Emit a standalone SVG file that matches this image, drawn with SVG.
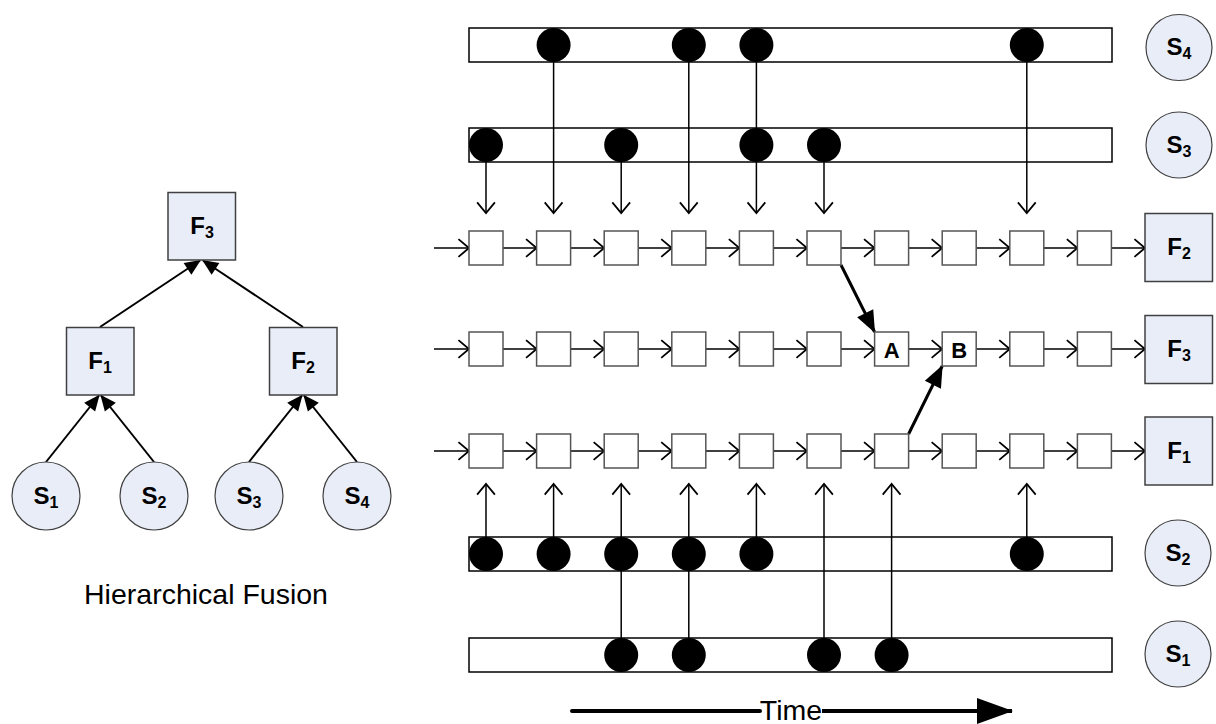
<svg xmlns="http://www.w3.org/2000/svg" width="1216" height="724" viewBox="0 0 1216 724">
  <style>
    .fnode { fill: #e8edf8; stroke: #404040; stroke-width: 1.5; }
    .snode { fill: #e8edf8; stroke: #404040; stroke-width: 1.2; }
    .lbl { font-family: "Liberation Sans", Arial, sans-serif; font-weight: bold; font-size: 24px; fill: #000; }
    .sub { font-size: 16px; }
    .cap { font-family: "Liberation Sans", Arial, sans-serif; font-size: 28.5px; fill: #000; }
    .bar { fill: #fff; stroke: #000; stroke-width: 1.5; }
    .cell { fill: #fff; stroke: #555; stroke-width: 1.5; }
    .dot { fill: #000; }
    .thin { stroke: #000; stroke-width: 1.5; fill: none; }
    .tree { stroke: #000; stroke-width: 2; fill: none; }
    .bold { stroke: #000; stroke-width: 3; fill: none; }
  </style>
  <defs>
    <marker id="open" markerUnits="userSpaceOnUse" markerWidth="14" markerHeight="20" viewBox="-1 -1 12 18" refX="9.5" refY="8" orient="auto" overflow="visible">
      <path d="M0,0 L9.5,8 L0,16" fill="none" stroke="#000" stroke-width="1.6"/>
    </marker>
    <marker id="solid" markerUnits="userSpaceOnUse" markerWidth="16" markerHeight="14" viewBox="0 0 16 14" refX="15" refY="7" orient="auto" overflow="visible">
      <path d="M0,0 L16,7 L0,14 Z" fill="#000"/>
    </marker>
    <marker id="solidBig" markerUnits="userSpaceOnUse" markerWidth="22" markerHeight="18" viewBox="0 0 22 18" refX="21" refY="9" orient="auto" overflow="visible">
      <path d="M0,0 L22,9 L0,18 Z" fill="#000"/>
    </marker>
    <marker id="timeHead" markerUnits="userSpaceOnUse" markerWidth="36" markerHeight="26" viewBox="0 0 36 26" refX="35" refY="13" orient="auto" overflow="visible">
      <path d="M0,0 L36,13 L0,26 Z" fill="#000"/>
    </marker>
  </defs>

  <!-- ===== Hierarchical fusion tree ===== -->
  <g id="tree-connectors">
    <line class="tree" x1="46" y1="462" x2="99" y2="395.5" marker-end="url(#solid)"/>
    <line class="tree" x1="154" y1="462" x2="101" y2="395.5" marker-end="url(#solid)"/>
    <line class="tree" x1="249" y1="462" x2="302" y2="395.5" marker-end="url(#solid)"/>
    <line class="tree" x1="357" y1="462" x2="304" y2="395.5" marker-end="url(#solid)"/>
    <line class="tree" x1="100" y1="327" x2="200" y2="260.5" marker-end="url(#solid)"/>
    <line class="tree" x1="303" y1="327" x2="203" y2="260.5" marker-end="url(#solid)"/>
  </g>
  <g id="tree-F3">
    <rect class="fnode" x="168" y="192.5" width="67.5" height="67.5"/>
    <text class="lbl" x="202" y="234" text-anchor="middle">F<tspan class="sub" dy="4">3</tspan></text>
  </g>
  <g id="tree-F1">
    <rect class="fnode" x="66.5" y="327.5" width="67.5" height="67.5"/>
    <text class="lbl" x="100" y="369" text-anchor="middle">F<tspan class="sub" dy="4">1</tspan></text>
  </g>
  <g id="tree-F2">
    <rect class="fnode" x="269.5" y="327.5" width="67.5" height="67.5"/>
    <text class="lbl" x="303" y="369" text-anchor="middle">F<tspan class="sub" dy="4">2</tspan></text>
  </g>
  <g id="tree-S1">
    <circle class="snode" cx="46" cy="496" r="34"/>
    <text class="lbl" x="46" y="504" text-anchor="middle">S<tspan class="sub" dy="4">1</tspan></text>
  </g>
  <g id="tree-S2">
    <circle class="snode" cx="154" cy="496" r="34"/>
    <text class="lbl" x="154" y="504" text-anchor="middle">S<tspan class="sub" dy="4">2</tspan></text>
  </g>
  <g id="tree-S3">
    <circle class="snode" cx="249" cy="496" r="34"/>
    <text class="lbl" x="249" y="504" text-anchor="middle">S<tspan class="sub" dy="4">3</tspan></text>
  </g>
  <g id="tree-S4">
    <circle class="snode" cx="357" cy="496" r="34"/>
    <text class="lbl" x="357" y="504" text-anchor="middle">S<tspan class="sub" dy="4">4</tspan></text>
  </g>
  <text id="tree-caption" class="cap" x="206" y="604" text-anchor="middle">Hierarchical Fusion</text>

  <!-- ===== Sensor timelines (bars) ===== -->
  <g id="bar-S4"><rect class="bar" x="469" y="28" width="643" height="34"/></g>
  <g id="bar-S3"><rect class="bar" x="469" y="128" width="643" height="34"/></g>
  <g id="bar-S2"><rect class="bar" x="469" y="537" width="643" height="34"/></g>
  <g id="bar-S1"><rect class="bar" x="469" y="638" width="643" height="34"/></g>

  <!-- ===== Connectors ===== -->
  <g id="connectors">
    <!-- sensor samples down into the F2 chain -->
    <line class="thin" x1="486" y1="145" x2="486" y2="213" marker-end="url(#open)"/>
    <line class="thin" x1="553.6" y1="45" x2="553.6" y2="213" marker-end="url(#open)"/>
    <line class="thin" x1="621.2" y1="145" x2="621.2" y2="213" marker-end="url(#open)"/>
    <line class="thin" x1="688.8" y1="45" x2="688.8" y2="213" marker-end="url(#open)"/>
    <line class="thin" x1="756.4" y1="45" x2="756.4" y2="213" marker-end="url(#open)"/>
    <line class="thin" x1="824" y1="145" x2="824" y2="213" marker-end="url(#open)"/>
    <line class="thin" x1="1026.8" y1="45" x2="1026.8" y2="213" marker-end="url(#open)"/>

    <!-- sensor samples up into the F1 chain -->
    <line class="thin" x1="486" y1="554" x2="486" y2="484" marker-end="url(#open)"/>
    <line class="thin" x1="553.6" y1="554" x2="553.6" y2="484" marker-end="url(#open)"/>
    <line class="thin" x1="621.2" y1="655" x2="621.2" y2="484" marker-end="url(#open)"/>
    <line class="thin" x1="688.8" y1="655" x2="688.8" y2="484" marker-end="url(#open)"/>
    <line class="thin" x1="756.4" y1="554" x2="756.4" y2="484" marker-end="url(#open)"/>
    <line class="thin" x1="824" y1="655" x2="824" y2="484" marker-end="url(#open)"/>
    <line class="thin" x1="891.6" y1="655" x2="891.6" y2="484" marker-end="url(#open)"/>
    <line class="thin" x1="1026.8" y1="554" x2="1026.8" y2="484" marker-end="url(#open)"/>

    <!-- F2 chain (y=248) -->
    <g id="chain-F2">
      <line class="thin" x1="434" y1="248" x2="469" y2="248" marker-end="url(#open)"/>
      <line class="thin" x1="503" y1="248" x2="536.6" y2="248" marker-end="url(#open)"/>
      <line class="thin" x1="570.6" y1="248" x2="604.2" y2="248" marker-end="url(#open)"/>
      <line class="thin" x1="638.2" y1="248" x2="671.8" y2="248" marker-end="url(#open)"/>
      <line class="thin" x1="705.8" y1="248" x2="739.4" y2="248" marker-end="url(#open)"/>
      <line class="thin" x1="773.4" y1="248" x2="807" y2="248" marker-end="url(#open)"/>
      <line class="thin" x1="841" y1="248" x2="874.6" y2="248" marker-end="url(#open)"/>
      <line class="thin" x1="908.6" y1="248" x2="942.2" y2="248" marker-end="url(#open)"/>
      <line class="thin" x1="976.2" y1="248" x2="1009.8" y2="248" marker-end="url(#open)"/>
      <line class="thin" x1="1043.8" y1="248" x2="1077.4" y2="248" marker-end="url(#open)"/>
      <line class="thin" x1="1111.4" y1="248" x2="1145" y2="248" marker-end="url(#open)"/>
    </g>
    <!-- F3 chain (y=349) -->
    <g id="chain-F3">
      <line class="thin" x1="434" y1="349" x2="469" y2="349" marker-end="url(#open)"/>
      <line class="thin" x1="503" y1="349" x2="536.6" y2="349" marker-end="url(#open)"/>
      <line class="thin" x1="570.6" y1="349" x2="604.2" y2="349" marker-end="url(#open)"/>
      <line class="thin" x1="638.2" y1="349" x2="671.8" y2="349" marker-end="url(#open)"/>
      <line class="thin" x1="705.8" y1="349" x2="739.4" y2="349" marker-end="url(#open)"/>
      <line class="thin" x1="773.4" y1="349" x2="807" y2="349" marker-end="url(#open)"/>
      <line class="thin" x1="841" y1="349" x2="874.6" y2="349" marker-end="url(#open)"/>
      <line class="thin" x1="908.6" y1="349" x2="942.2" y2="349" marker-end="url(#open)"/>
      <line class="thin" x1="976.2" y1="349" x2="1009.8" y2="349" marker-end="url(#open)"/>
      <line class="thin" x1="1043.8" y1="349" x2="1077.4" y2="349" marker-end="url(#open)"/>
      <line class="thin" x1="1111.4" y1="349" x2="1145" y2="349" marker-end="url(#open)"/>
    </g>
    <!-- F1 chain (y=451) -->
    <g id="chain-F1">
      <line class="thin" x1="434" y1="451" x2="469" y2="451" marker-end="url(#open)"/>
      <line class="thin" x1="503" y1="451" x2="536.6" y2="451" marker-end="url(#open)"/>
      <line class="thin" x1="570.6" y1="451" x2="604.2" y2="451" marker-end="url(#open)"/>
      <line class="thin" x1="638.2" y1="451" x2="671.8" y2="451" marker-end="url(#open)"/>
      <line class="thin" x1="705.8" y1="451" x2="739.4" y2="451" marker-end="url(#open)"/>
      <line class="thin" x1="773.4" y1="451" x2="807" y2="451" marker-end="url(#open)"/>
      <line class="thin" x1="841" y1="451" x2="874.6" y2="451" marker-end="url(#open)"/>
      <line class="thin" x1="908.6" y1="451" x2="942.2" y2="451" marker-end="url(#open)"/>
      <line class="thin" x1="976.2" y1="451" x2="1009.8" y2="451" marker-end="url(#open)"/>
      <line class="thin" x1="1043.8" y1="451" x2="1077.4" y2="451" marker-end="url(#open)"/>
      <line class="thin" x1="1111.4" y1="451" x2="1145" y2="451" marker-end="url(#open)"/>
    </g>

    <!-- cross-level fusion links -->
    <line class="bold" x1="841" y1="265" x2="874.6" y2="332" marker-end="url(#solidBig)"/>
    <line class="bold" x1="908.6" y1="434" x2="942.2" y2="366" marker-end="url(#solidBig)"/>

    <!-- time axis -->
    <line x1="572" y1="711" x2="760" y2="711" stroke="#000" stroke-width="4" stroke-linecap="round"/>
    <line x1="822" y1="711" x2="1012" y2="711" stroke="#000" stroke-width="4" marker-end="url(#timeHead)"/>
  </g>
  <text id="time-label" class="cap" x="791" y="720" text-anchor="middle">Time</text>

  <!-- ===== Sample dots on the timelines ===== -->
  <g id="samples-S4">
    <circle class="dot" cx="553.6" cy="45" r="17"/>
    <circle class="dot" cx="688.8" cy="45" r="17"/>
    <circle class="dot" cx="756.4" cy="45" r="17"/>
    <circle class="dot" cx="1026.8" cy="45" r="17"/>
  </g>
  <g id="samples-S3">
    <circle class="dot" cx="486" cy="145" r="17"/>
    <circle class="dot" cx="621.2" cy="145" r="17"/>
    <circle class="dot" cx="756.4" cy="145" r="17"/>
    <circle class="dot" cx="824" cy="145" r="17"/>
  </g>
  <g id="samples-S2">
    <circle class="dot" cx="486" cy="554" r="17"/>
    <circle class="dot" cx="553.6" cy="554" r="17"/>
    <circle class="dot" cx="621.2" cy="554" r="17"/>
    <circle class="dot" cx="688.8" cy="554" r="17"/>
    <circle class="dot" cx="756.4" cy="554" r="17"/>
    <circle class="dot" cx="1026.8" cy="554" r="17"/>
  </g>
  <g id="samples-S1">
    <circle class="dot" cx="621.2" cy="655" r="17"/>
    <circle class="dot" cx="688.8" cy="655" r="17"/>
    <circle class="dot" cx="824" cy="655" r="17"/>
    <circle class="dot" cx="891.6" cy="655" r="17"/>
  </g>

  <!-- ===== State cells ===== -->
  <g id="cells-F2">
    <rect class="cell" x="469" y="231" width="34" height="34"/>
    <rect class="cell" x="536.6" y="231" width="34" height="34"/>
    <rect class="cell" x="604.2" y="231" width="34" height="34"/>
    <rect class="cell" x="671.8" y="231" width="34" height="34"/>
    <rect class="cell" x="739.4" y="231" width="34" height="34"/>
    <rect class="cell" x="807" y="231" width="34" height="34"/>
    <rect class="cell" x="874.6" y="231" width="34" height="34"/>
    <rect class="cell" x="942.2" y="231" width="34" height="34"/>
    <rect class="cell" x="1009.8" y="231" width="34" height="34"/>
    <rect class="cell" x="1077.4" y="231" width="34" height="34"/>
  </g>
  <g id="cells-F3">
    <rect class="cell" x="469" y="332" width="34" height="34"/>
    <rect class="cell" x="536.6" y="332" width="34" height="34"/>
    <rect class="cell" x="604.2" y="332" width="34" height="34"/>
    <rect class="cell" x="671.8" y="332" width="34" height="34"/>
    <rect class="cell" x="739.4" y="332" width="34" height="34"/>
    <rect class="cell" x="807" y="332" width="34" height="34"/>
    <rect class="cell" x="1009.8" y="332" width="34" height="34"/>
    <rect class="cell" x="1077.4" y="332" width="34" height="34"/>
  </g>
  <g id="cell-A">
    <rect class="cell" x="874.6" y="332" width="34" height="34"/>
    <text class="lbl" x="891.6" y="357.5" text-anchor="middle" style="font-size:22px">A</text>
  </g>
  <g id="cell-B">
    <rect class="cell" x="942.2" y="332" width="34" height="34"/>
    <text class="lbl" x="959.2" y="357.5" text-anchor="middle" style="font-size:22px">B</text>
  </g>
  <g id="cells-F1">
    <rect class="cell" x="469" y="434" width="34" height="34"/>
    <rect class="cell" x="536.6" y="434" width="34" height="34"/>
    <rect class="cell" x="604.2" y="434" width="34" height="34"/>
    <rect class="cell" x="671.8" y="434" width="34" height="34"/>
    <rect class="cell" x="739.4" y="434" width="34" height="34"/>
    <rect class="cell" x="807" y="434" width="34" height="34"/>
    <rect class="cell" x="874.6" y="434" width="34" height="34"/>
    <rect class="cell" x="942.2" y="434" width="34" height="34"/>
    <rect class="cell" x="1009.8" y="434" width="34" height="34"/>
    <rect class="cell" x="1077.4" y="434" width="34" height="34"/>
  </g>

  <!-- ===== Right-hand legend nodes ===== -->
  <g id="legend-S4">
    <circle class="snode" cx="1179" cy="47.5" r="33"/>
    <text class="lbl" x="1179" y="55" text-anchor="middle">S<tspan class="sub" dy="4">4</tspan></text>
  </g>
  <g id="legend-S3">
    <circle class="snode" cx="1179" cy="145" r="33"/>
    <text class="lbl" x="1179" y="152.5" text-anchor="middle">S<tspan class="sub" dy="4">3</tspan></text>
  </g>
  <g id="legend-F2">
    <rect class="fnode" x="1145" y="213.5" width="67.5" height="68"/>
    <text class="lbl" x="1179" y="255" text-anchor="middle">F<tspan class="sub" dy="4">2</tspan></text>
  </g>
  <g id="legend-F3">
    <rect class="fnode" x="1145" y="315.5" width="67.5" height="68"/>
    <text class="lbl" x="1179" y="357" text-anchor="middle">F<tspan class="sub" dy="4">3</tspan></text>
  </g>
  <g id="legend-F1">
    <rect class="fnode" x="1145" y="417" width="67.5" height="68"/>
    <text class="lbl" x="1179" y="458.5" text-anchor="middle">F<tspan class="sub" dy="4">1</tspan></text>
  </g>
  <g id="legend-S2">
    <circle class="snode" cx="1178" cy="553" r="33"/>
    <text class="lbl" x="1178" y="560.5" text-anchor="middle">S<tspan class="sub" dy="4">2</tspan></text>
  </g>
  <g id="legend-S1">
    <circle class="snode" cx="1178" cy="654" r="33"/>
    <text class="lbl" x="1178" y="661.5" text-anchor="middle">S<tspan class="sub" dy="4">1</tspan></text>
  </g>
</svg>
